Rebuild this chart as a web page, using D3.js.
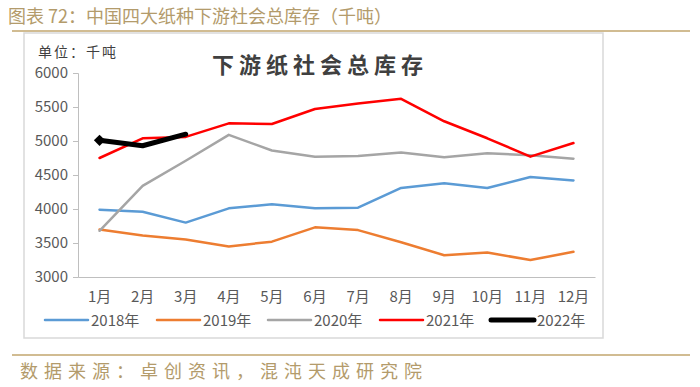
<!DOCTYPE html>
<html><head><meta charset="utf-8">
<script src="https://cdn.jsdelivr.net/npm/d3@7"></script>
<style>
html,body{margin:0;padding:0;background:#fff;}
svg{display:block;font-family:"Noto Sans CJK SC","Noto Sans",sans-serif;}
</style></head>
<body>
<svg id="c" width="700" height="387"></svg>
<script>
const months = ["1月","2月","3月","4月","5月","6月","7月","8月","9月","10月","11月","12月"];
const yTicks = [3000,3500,4000,4500,5000,5500,6000];
const seriesNames = ["2018年","2019年","2020年","2021年","2022年"];
const v2018 = [3990,3960,3800,4010,4070,4010,4020,4310,4380,4310,4470,4420];
const v2019 = [3700,3610,3550,3450,3520,3730,3690,3510,3320,3360,3250,3370];
const v2020 = [3680,4340,4710,5090,4860,4770,4780,4830,4760,4820,4790,4740];
const v2021 = [4750,5040,5060,5260,5250,5470,5550,5620,5290,5040,4770,4970];
const v2022 = [5010,4930,5100];
const colors = ["#5b9bd5","#ed7d31","#a5a5a5","#ff0000","#000000"];
const widths = [2.5,2.5,2.5,2.5,5];
const allSeries = [v2018,v2019,v2020,v2021,v2022];

const svg = d3.select("#c");
const tan = "#b39b6b";

// header
svg.append("text").attr("x",8).attr("y",23).attr("font-size",18).attr("fill",tan)
  .text("图表 72：中国四大纸种下游社会总库存（千吨）");
svg.append("line").attr("x1",12).attr("x2",690).attr("y1",31).attr("y2",31)
  .attr("stroke","#c2a66e").attr("stroke-width",1.5);
// chart box
svg.append("rect").attr("x",24).attr("y",33).attr("width",579).attr("height",305)
  .attr("fill","#fff").attr("stroke","#d9d9d9").attr("stroke-width",1.5);
// footer
svg.append("line").attr("x1",12).attr("x2",690).attr("y1",355).attr("y2",355)
  .attr("stroke","#c2a66e").attr("stroke-width",1.5);
svg.append("text").attr("x",20).attr("y",378).attr("font-size",18).attr("fill",tan)
  .attr("letter-spacing",6)
  .text("数据来源：卓创资讯，混沌天成研究院");

// titles
svg.append("text").attr("x",38).attr("y",57).attr("font-size",14).attr("fill","#404040")
  .attr("letter-spacing",2)
  .text("单位：千吨");
svg.append("text").attr("x",320).attr("y",73).attr("font-size",22).attr("font-weight","bold")
  .attr("letter-spacing",5).attr("text-anchor","middle").attr("fill","#404040")
  .text("下游纸社会总库存");

const x = d3.scaleBand().domain(months).range([78,595]);
const y = d3.scaleLinear().domain([3000,6000]).range([277,73]);

const yAxis = svg.append("g").attr("transform","translate(78,0)")
  .call(d3.axisLeft(y).tickValues(yTicks).tickSize(5).tickPadding(5).tickFormat(d3.format("d")));
yAxis.select(".domain").attr("stroke","#bfbfbf");
yAxis.selectAll(".tick line").attr("stroke","#bfbfbf");
yAxis.selectAll("text").attr("font-size",15).attr("fill","#595959")
  .attr("font-family","'Noto Sans CJK SC',sans-serif");

const xAxis = svg.append("g").attr("transform","translate(0,277)")
  .call(d3.axisBottom(x).tickSize(0).tickPadding(14));
xAxis.select(".domain").attr("stroke","#bfbfbf");
xAxis.selectAll("text").attr("font-size",15).attr("fill","#595959")
  .attr("font-family","'Noto Sans CJK SC',sans-serif");

const line = d3.line().x((d,i)=>x(months[i])+x.bandwidth()/2).y(d=>y(d));
allSeries.forEach((s,k)=>{
  svg.append("path").datum(s).attr("d",line).attr("fill","none")
    .attr("stroke",colors[k]).attr("stroke-width",widths[k])
    .attr("stroke-linejoin","round").attr("stroke-linecap","round");
});
// 2022 diamond marker at first point (square rotated 45°)
svg.append("path").attr("d",d3.symbol().type(d3.symbolSquare).size(64)())
  .attr("transform",`translate(${x(months[0])+x.bandwidth()/2},${y(v2022[0])}) rotate(45)`)
  .attr("fill","#000");

// legend
const legX = [45,157,268,380,491];
const lg = svg.append("g");
seriesNames.forEach((n,k)=>{
  lg.append("line").attr("x1",legX[k]).attr("x2",legX[k]+43).attr("y1",320).attr("y2",320)
    .attr("stroke",colors[k]).attr("stroke-width",k===4?5:2.5).attr("stroke-linecap","round");
  lg.append("text").attr("x",legX[k]+46).attr("y",325.5).attr("font-size",15).attr("fill","#595959")
    .text(n);
});
</script>
</body></html>
